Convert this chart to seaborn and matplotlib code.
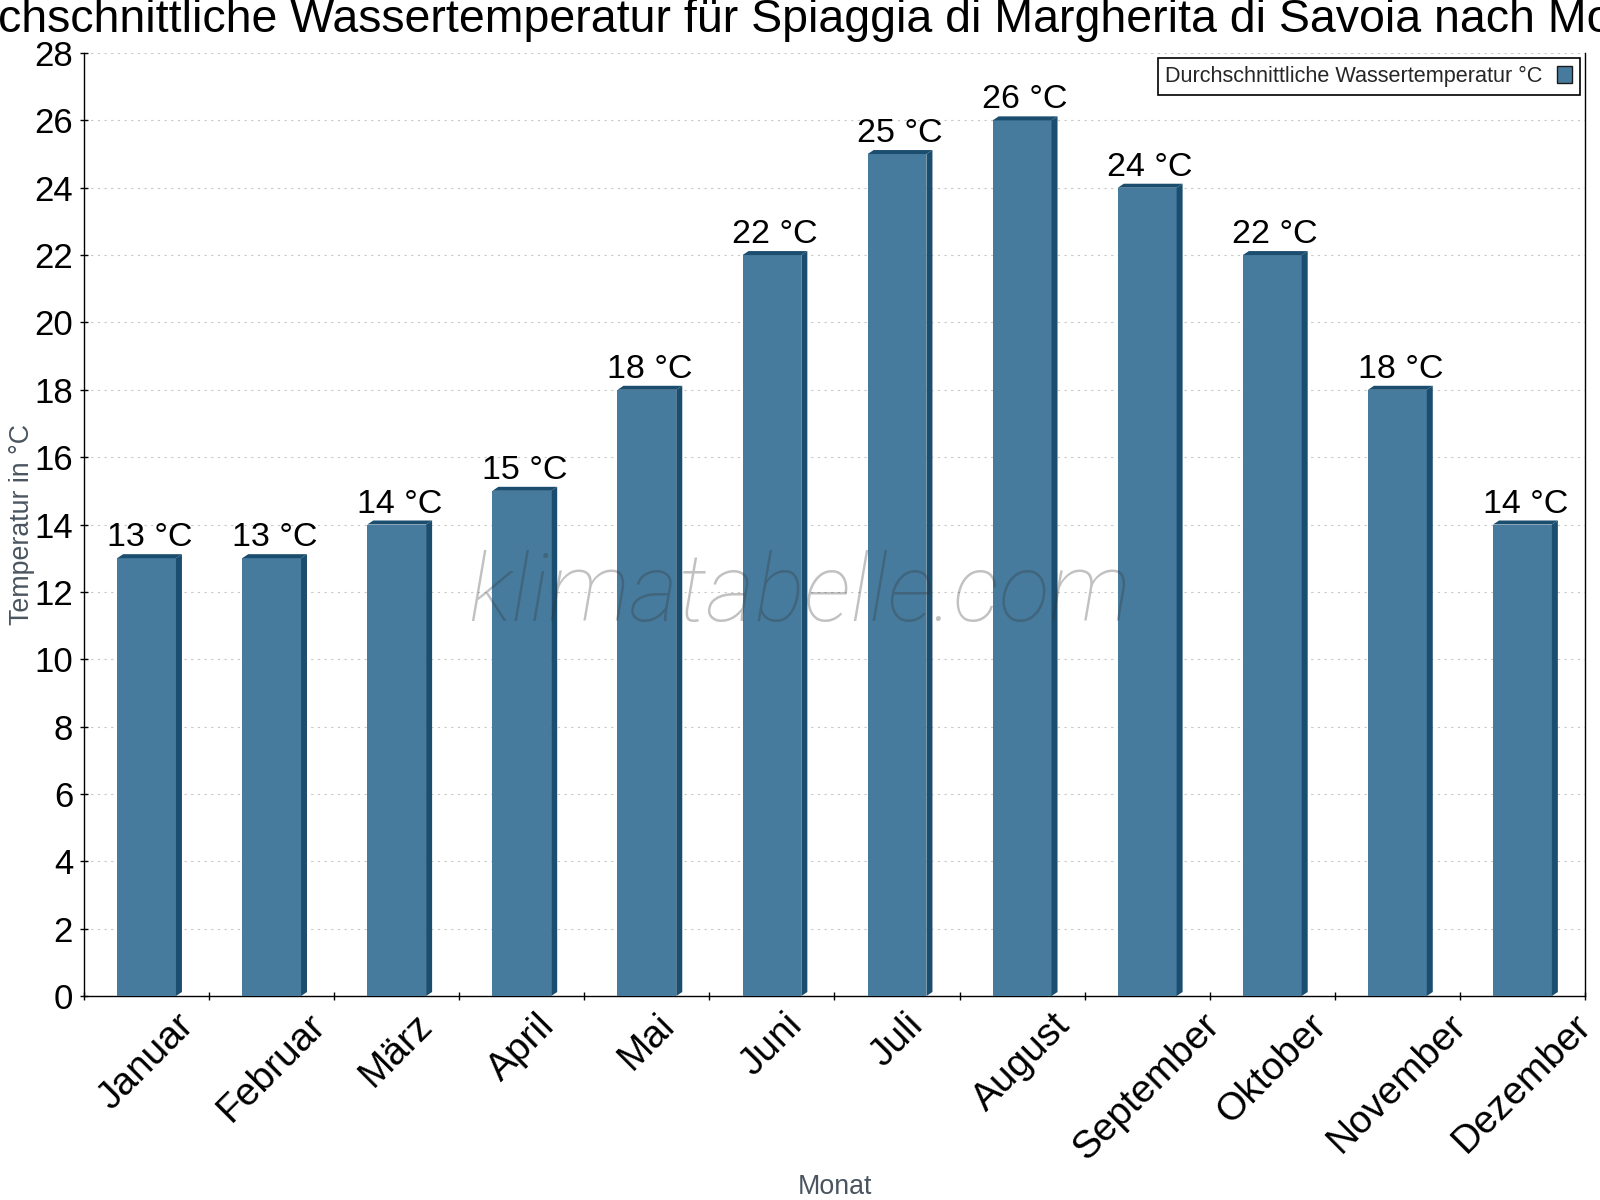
import matplotlib
matplotlib.use("Agg")
import matplotlib.pyplot as plt
import seaborn as sns
import pandas as pd
from matplotlib.patches import Polygon, Patch

# monthly average water temperature
months = ["Januar", "Februar", "März", "April", "Mai", "Juni",
          "Juli", "August", "September", "Oktober", "November", "Dezember"]
water_temp = [13, 13, 14, 15, 18, 22, 25, 26, 24, 22, 18, 14]
y_ticks = list(range(0, 29, 2))

title = "Durchschnittliche Wassertemperatur für Spiaggia di Margherita di Savoia nach Monat"
legend_label = "Durchschnittliche Wassertemperatur °C"

front_col = "#467b9d"
dark_col = "#1a4d6e"
label_col = "#4a5560"

sns.set_style("white")
plt.rcParams['font.family'] = ['Liberation Sans', 'DejaVu Sans']

W, H = 1600, 1200
fig = plt.figure(figsize=(16, 12), dpi=100)
ax_l, ax_r, ax_t, ax_b = 84, 1585, 53, 996
ax = fig.add_axes([ax_l / W, 1 - ax_b / H, (ax_r - ax_l) / W, (ax_b - ax_t) / H])

df = pd.DataFrame({"Monat": months, "Temperatur": water_temp})
sns.barplot(data=df, x="Monat", y="Temperatur", color=front_col, saturation=1,
            width=0.47, linewidth=0, ax=ax, zorder=3)

ax.set_xlim(-0.5, len(months) - 0.5)
ax.set_ylim(0, 28)

# pixel offsets of the fake 3d face, converted to data units
dx = 6 * (len(months)) / (ax_r - ax_l)
dy = 4 * 28 / (ax_b - ax_t)

for bar, lab in zip(ax.patches, water_temp):
    x0 = bar.get_x()
    x1 = x0 + bar.get_width()
    h = bar.get_height()
    side = Polygon([(x1, 0), (x1 + dx, dy), (x1 + dx, h + dy), (x1, h)],
                   closed=True, facecolor=dark_col, edgecolor="none", zorder=3)
    top = Polygon([(x0, h), (x0 + dx, h + dy), (x1 + dx, h + dy), (x1, h)],
                  closed=True, facecolor=dark_col, edgecolor="none", zorder=3)
    ax.add_patch(side)
    ax.add_patch(top)
    ax.annotate(f"{lab} °C", (x0 + (x1 - x0 + dx) / 2, h), xytext=(0, 8.6),
                textcoords="offset points", ha="center", va="baseline",
                fontsize=24.5, color="black", zorder=4)

# axes styling
ax.set_yticks(y_ticks)
ax.set_xticks(range(len(months)))
ax.set_xticklabels(months, rotation=45, ha="center")
ax.set_xticks([i - 0.5 for i in range(len(months) + 1)], minor=True)
ax.tick_params(axis="y", direction="inout", length=5.8, width=1, color="black",
               labelsize=25, labelcolor="black", pad=5, left=True)
ax.tick_params(axis="x", which="major", length=0, labelsize=28, labelcolor="black",
               pad=8, bottom=True)
ax.tick_params(axis="x", which="minor", direction="inout", length=5.8, width=1,
               color="black", bottom=True)

for s in ["left", "bottom", "right"]:
    ax.spines[s].set_visible(True)
    ax.spines[s].set_color("black")
    ax.spines[s].set_linewidth(1)
ax.spines["top"].set_visible(False)

ax.yaxis.grid(True, linestyle=(0, (2, 4)), color="#c8c8c8", linewidth=0.8)
ax.xaxis.grid(False)
ax.set_axisbelow(True)

ax.set_xlabel("Monat", fontsize=19.3, color=label_col)
ax.xaxis.label.set_va("baseline")
ax.xaxis.set_label_coords(0.5, (ax_b - 1194) / (ax_b - ax_t))
ax.set_ylabel("Temperatur in °C", fontsize=19.3, color=label_col)
ax.yaxis.label.set_va("center")
ax.yaxis.set_label_coords((22 - ax_l) / (ax_r - ax_l), 0.5)

fig.text(0.5, 1 - 32 / H, title, ha="center", va="baseline", fontsize=33.5, color="black")

handle = Patch(facecolor=front_col, edgecolor="#1a1a1a", linewidth=1)
leg = ax.legend([handle], [legend_label], loc="upper right", markerfirst=False,
                frameon=True, fancybox=False, edgecolor="black", framealpha=1,
                fontsize=15.6, borderaxespad=0.25, borderpad=0.35,
                handlelength=0.7, handleheight=0.85, handletextpad=0.65)
leg.get_frame().set_linewidth(1.2)
leg.set_zorder(6)

# watermark
fig.text(0.5, 1 - 595 / H, "klimatabelle.com",
         ha="center", va="center", fontsize=67.5, family=["Roboto", "DejaVu Sans"],
         fontweight="light", fontstyle="italic", color="#333333", alpha=0.3, zorder=5)

fig.savefig("out.png", dpi=100)
